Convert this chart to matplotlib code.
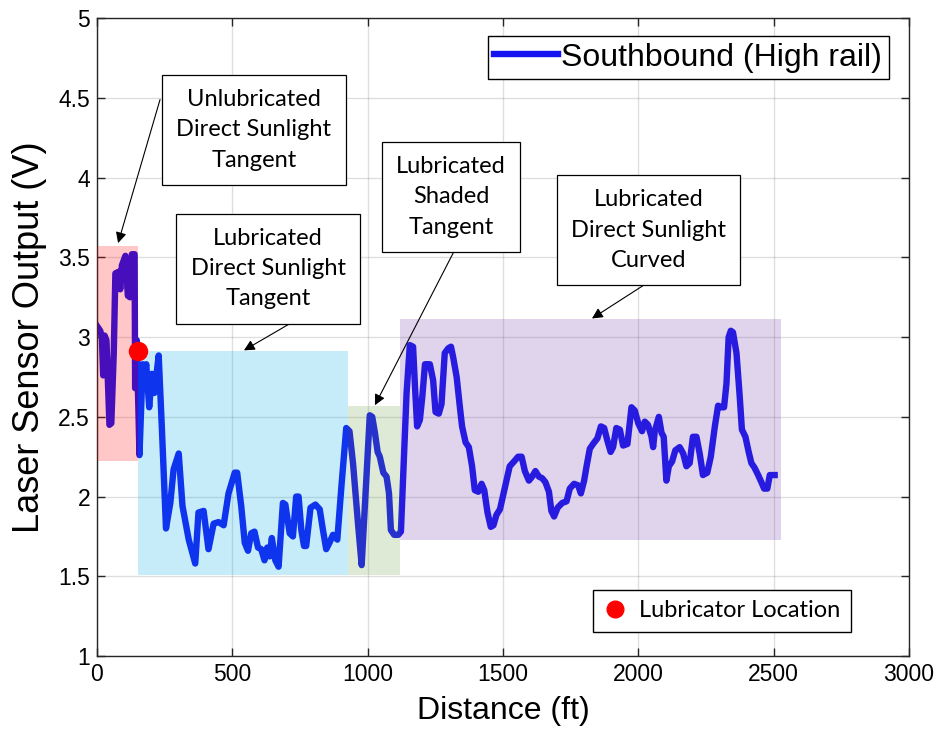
import matplotlib
matplotlib.use("Agg")
import matplotlib.pyplot as plt
from matplotlib.lines import Line2D
from matplotlib.patches import Rectangle

# laser sensor trace, southbound run on the high rail
dist_ft = [0, 12, 18, 23, 28, 35, 46, 53, 62, 68, 80, 86, 92, 105, 114, 122, 129, 139,
           141, 147, 157, 169, 176, 182, 193, 203, 212, 228, 240, 255, 271, 283, 302,
           316, 339, 363, 375, 394, 412, 431, 449, 468, 486, 509, 518, 533, 546, 558,
           570, 582, 595, 607, 619, 629, 638, 646, 659, 671, 687, 696, 712, 724, 736,
           745, 755, 765, 773, 789, 807, 823, 835, 847, 859, 872, 888, 903, 921, 933,
           946, 964, 978, 1008, 1017, 1027, 1037, 1045, 1058, 1070, 1079, 1086, 1098,
           1113, 1123, 1144, 1156, 1168, 1175, 1183, 1193, 1202, 1212, 1230, 1242,
           1251, 1263, 1273, 1285, 1298, 1308, 1316, 1329, 1341, 1349, 1362, 1374,
           1386, 1396, 1409, 1421, 1431, 1443, 1455, 1465, 1476, 1489, 1513, 1525,
           1541, 1556, 1569, 1581, 1596, 1608, 1620, 1633, 1645, 1657, 1670, 1679,
           1689, 1702, 1719, 1735, 1747, 1763, 1778, 1788, 1800, 1809, 1821, 1833,
           1849, 1862, 1874, 1886, 1898, 1907, 1919, 1932, 1944, 1960, 1975, 1987,
           2000, 2014, 2024, 2036, 2049, 2055, 2061, 2076, 2086, 2094, 2104, 2113,
           2125, 2137, 2153, 2166, 2178, 2190, 2202, 2215, 2227, 2239, 2255, 2268,
           2283, 2295, 2307, 2317, 2326, 2334, 2342, 2350, 2363, 2375, 2383, 2396,
           2408, 2418, 2430, 2443, 2455, 2465, 2477, 2486, 2504]
sensor_v = [3.07, 3.04, 3.00, 2.76, 3.01, 2.98, 2.45, 2.46, 2.90, 3.40, 3.41, 3.30, 3.45,
            3.51, 3.26, 3.25, 3.52, 3.52, 2.68, 2.98, 2.26, 2.83, 2.77, 2.83, 2.56, 2.77,
            2.65, 2.885, 2.42, 1.80, 1.96, 2.17, 2.27, 1.94, 1.73, 1.58, 1.90, 1.91,
            1.67, 1.83, 1.84, 1.82, 2.02, 2.15, 2.15, 1.94, 1.71, 1.66, 1.77, 1.78,
            1.68, 1.67, 1.60, 1.68, 1.625, 1.74, 1.60, 1.56, 1.96, 1.95, 1.77, 1.75,
            2.00, 2.00, 1.79, 1.69, 1.69, 1.93, 1.95, 1.92, 1.79, 1.67, 1.71, 1.76,
            1.73, 2.06, 2.43, 2.41, 2.21, 1.84, 1.57, 2.51, 2.50, 2.40, 2.28, 2.25,
            2.15, 2.125, 2.02, 1.79, 1.76, 1.76, 1.78, 2.65, 2.95, 2.94, 2.69, 2.44,
            2.48, 2.625, 2.83, 2.83, 2.73, 2.53, 2.52, 2.58, 2.90, 2.93, 2.94, 2.875,
            2.75, 2.56, 2.44, 2.34, 2.31, 2.19, 2.04, 2.03, 2.08, 2.04, 1.90, 1.81,
            1.82, 1.885, 1.92, 2.10, 2.19, 2.22, 2.25, 2.25, 2.16, 2.10, 2.125, 2.16,
            2.125, 2.115, 2.09, 2.03, 1.91, 1.875, 1.93, 1.96, 1.97, 2.05, 2.08, 2.07,
            2.02, 2.10, 2.19, 2.30, 2.33, 2.365, 2.44, 2.43, 2.35, 2.28, 2.31, 2.43,
            2.42, 2.32, 2.33, 2.56, 2.54, 2.46, 2.41, 2.47, 2.45, 2.375, 2.31, 2.41,
            2.50, 2.40, 2.375, 2.10, 2.19, 2.22, 2.29, 2.31, 2.27, 2.19, 2.21, 2.375,
            2.375, 2.27, 2.135, 2.15, 2.25, 2.44, 2.57, 2.56, 2.56, 2.71, 3.00, 3.04,
            3.03, 2.90, 2.625, 2.42, 2.375, 2.28, 2.21, 2.18, 2.135, 2.09, 2.05, 2.05,
            2.135, 2.135]

lube_ft = [150]
lube_v = [2.91]

# track sections: distance span and voltage span of each shaded zone
zone_start = [0, 150, 928, 1120]
zone_end = [150, 928, 1120, 2527]
zone_low = [2.22, 1.51, 1.51, 1.73]
zone_high = [3.57, 2.91, 2.57, 3.115]
zone_labels = ["Unlubricated\nDirect Sunlight\nTangent",
               "Lubricated\nDirect Sunlight\nTangent",
               "Lubricated\nShaded\nTangent",
               "Lubricated\nDirect Sunlight\nCurved"]
zone_colors = ["#ff0000", "#00aae6", "#6ea046", "#7337aa"]

label_pos = [(580, 4.30), (632, 3.43), (1308, 3.88), (2039, 3.67)]
arrow_tail = [(233, 4.49), (713, 3.085), (1322, 3.547), (2024, 3.33)]
arrow_head = [(78, 3.59), (543, 2.917), (1027, 2.573), (1829, 3.117)]

fig = plt.figure(figsize=(9.37, 7.31), dpi=100)
ax = fig.add_axes([0.1035, 0.1026, 0.8665, 0.8724])

line, = ax.plot(dist_ft, sensor_v, color="#1414f0", lw=4.6, zorder=2,
                solid_joinstyle="round", label="Southbound (High rail)")

for x0, x1, y0, y1, c in zip(zone_start, zone_end, zone_low, zone_high, zone_colors):
    ax.add_patch(Rectangle((x0, y0), x1 - x0, y1 - y0, facecolor=c, alpha=0.22,
                           edgecolor="none", zorder=3))

dot, = ax.plot(lube_ft, lube_v, "o", color="red", ms=13, zorder=5,
               label="Lubricator Location")

for txt, pos, tail, head in zip(zone_labels, label_pos, arrow_tail, arrow_head):
    ax.annotate("", xy=head, xytext=tail,
                arrowprops=dict(arrowstyle="-|>", color="black", lw=0.8,
                                mutation_scale=16, shrinkA=0, shrinkB=0), zorder=6)
    ax.text(pos[0], pos[1], txt, ha="center", va="center", fontsize=17,
            family="Lato", linespacing=1.55, zorder=7,
            bbox=dict(boxstyle="square,pad=0.6", fc="white", ec="black", lw=0.9))

ax.set_xlim(0, 3000)
ax.set_ylim(1, 5)
ax.set_xticks(range(0, 3001, 500))
ax.set_yticks([1, 1.5, 2, 2.5, 3, 3.5, 4, 4.5, 5])
ax.set_yticklabels(["1", "1.5", "2", "2.5", "3", "3.5", "4", "4.5", "5"])
ax.tick_params(direction="in", top=True, right=True, length=6, width=1,
               labelsize=16.5, colors="#262626", labelcolor="black", pad=5)
for lab in ax.get_xticklabels() + ax.get_yticklabels():
    lab.set_family("Liberation Sans")
for sp in ax.spines.values():
    sp.set_color("#262626")
    sp.set_linewidth(1.0)
ax.grid(True, color="#262626", alpha=0.15, lw=1)
ax.set_axisbelow(True)

ax.set_xlabel("Distance (ft)", fontsize=23, family="Liberation Sans", labelpad=7)
ax.set_ylabel("Laser Sensor Output (V)", fontsize=26, family="Liberation Sans", labelpad=8)

leg1 = ax.legend(handles=[line], loc="upper right", bbox_to_anchor=(0.975, 0.972),
                 borderaxespad=0, fancybox=False, framealpha=1, edgecolor="black",
                 prop={"family": "Liberation Sans", "size": 23}, handlelength=2.0,
                 handletextpad=0.1, borderpad=0.2)
leg1.get_frame().set_linewidth(1.0)
leg1.set_zorder(8)
ax.add_artist(leg1)

leg2 = ax.legend(handles=[Line2D([], [], ls="none", marker="o", color="red", ms=12)],
                 labels=["Lubricator Location"], loc="lower right",
                 bbox_to_anchor=(0.9286, 0.0376), borderaxespad=0, fancybox=False,
                 framealpha=1, edgecolor="black", prop={"family": "Lato", "size": 17},
                 handlelength=1.0, handletextpad=0.5, borderpad=0.45)
leg2.get_frame().set_linewidth(1.0)
leg2.set_zorder(8)

fig.savefig("out.png", dpi=100)
